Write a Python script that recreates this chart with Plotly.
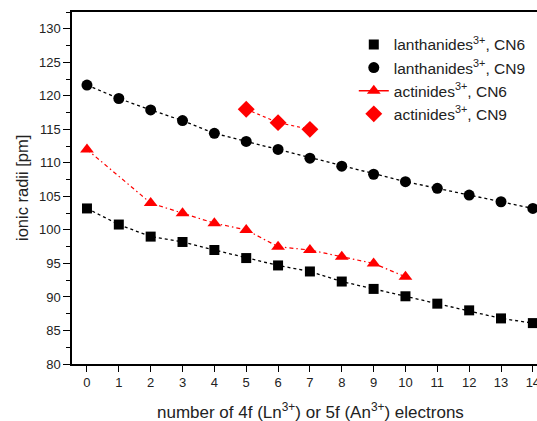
import plotly.graph_objects as go

n_ln = list(range(15))
ln_cn6 = [103.2, 100.8, 99.0, 98.2, 97.0, 95.8, 94.7, 93.8, 92.3, 91.2, 90.1, 89.0, 88.0, 86.8, 86.1]
ln_cn9 = [121.6, 119.6, 117.9, 116.3, 114.4, 113.2, 112.0, 110.7, 109.5, 108.3, 107.2, 106.2, 105.2, 104.2, 103.2]
n_an6 = [0, 2, 3, 4, 5, 6, 7, 8, 9, 10]
an_cn6 = [112.0, 104.0, 102.5, 101.0, 100.0, 97.5, 97.0, 96.0, 95.0, 93.0]
n_an9 = [5, 6, 7]
an_cn9 = [118.0, 116.0, 115.0]

x_ticks = list(range(15))
y_ticks = [80, 85, 90, 95, 100, 105, 110, 115, 120, 125, 130]

RED = "#ff0000"
BLK = "#000000"
TXT = "#222222"

fig = go.Figure()

# connecting lines (no legend)
fig.add_trace(go.Scatter(x=n_ln, y=ln_cn6, mode="lines", line=dict(color=BLK, width=1.3, dash="dot"), showlegend=False, hoverinfo="skip"))
fig.add_trace(go.Scatter(x=n_ln, y=ln_cn9, mode="lines", line=dict(color=BLK, width=1.3, dash="dot"), showlegend=False, hoverinfo="skip"))
fig.add_trace(go.Scatter(x=n_an6, y=an_cn6, mode="lines", line=dict(color=RED, width=1.2, dash="4px,3px,1.5px,3px"), showlegend=False, hoverinfo="skip"))
fig.add_trace(go.Scatter(x=n_an9, y=an_cn9, mode="lines", line=dict(color=RED, width=1.2, dash="dot"), showlegend=False, hoverinfo="skip"))

# markers
fig.add_trace(go.Scatter(x=n_ln, y=ln_cn6, mode="markers", name="lanthanides<sup>3+</sup>, CN6",
                         marker=dict(symbol="square", size=10, color=BLK)))
fig.add_trace(go.Scatter(x=n_ln, y=ln_cn9, mode="markers", name="lanthanides<sup>3+</sup>, CN9",
                         marker=dict(symbol="circle", size=11, color=BLK)))
fig.add_trace(go.Scatter(x=n_an6, y=an_cn6, mode="markers", name="actinides<sup>3+</sup>, CN6",
                         marker=dict(symbol="triangle-up", size=12, color=RED), showlegend=False))
fig.add_trace(go.Scatter(x=[None], y=[None], mode="lines+markers", name="actinides<sup>3+</sup>, CN6",
                         line=dict(color=RED, width=1.5), marker=dict(symbol="triangle-up", size=12, color=RED)))
fig.add_trace(go.Scatter(x=n_an9, y=an_cn9, mode="markers", name="actinides<sup>3+</sup>, CN9",
                         marker=dict(symbol="diamond", size=13, color=RED)))

fig.update_layout(
    width=537, height=421,
    margin=dict(l=72, r=0, t=12, b=57, autoexpand=False),
    paper_bgcolor="white", plot_bgcolor="white",
    font=dict(family="Liberation Sans, Arial, sans-serif", color=TXT),
    showlegend=True,
    legend=dict(x=0.606, y=0.955, xanchor="left", yanchor="top", bgcolor="rgba(0,0,0,0)",
                font=dict(size=15.5, color=TXT), tracegroupgap=0, itemwidth=30),
    xaxis=dict(range=[-0.47, 14.13], tickmode="array", tickvals=x_ticks, ticktext=[str(v) for v in x_ticks],
               showgrid=False, zeroline=False, showline=True, linecolor=BLK, linewidth=1.5, mirror=True,
               ticks="outside", ticklen=6, tickwidth=1, tickcolor=BLK, tickfont=dict(size=13, color=TXT),
               ticklabeloverflow="allow", automargin=False),
    yaxis=dict(range=[80, 132.5], tickmode="array", tickvals=y_ticks, ticktext=[str(v) for v in y_ticks],
               showgrid=False, zeroline=False, showline=True, linecolor=BLK, linewidth=1.5, mirror=False,
               ticks="outside", ticklen=7, tickwidth=1, tickcolor=BLK, tickfont=dict(size=13, color=TXT),
               minor=dict(dtick=2.5, tick0=80, ticks="outside", ticklen=4, tickcolor=BLK, tickwidth=1),
               automargin=False),
    annotations=[
        dict(text="number of 4f (Ln<sup>3+</sup>) or 5f (An<sup>3+</sup>) electrons", xref="paper", yref="paper",
             x=0.512, y=-0.1335, xanchor="center", yanchor="middle", showarrow=False, font=dict(size=17, color=TXT)),
        dict(text="ionic radii [pm]", xref="paper", yref="paper", textangle=-90,
             x=-0.1075, y=0.5, xanchor="center", yanchor="middle", showarrow=False, font=dict(size=16.5, color=TXT)),
    ],
)

fig.write_html("out.html", config={"displayModeBar": False},
               post_script="document.body.style.margin='0';document.body.style.overflow='hidden';")
